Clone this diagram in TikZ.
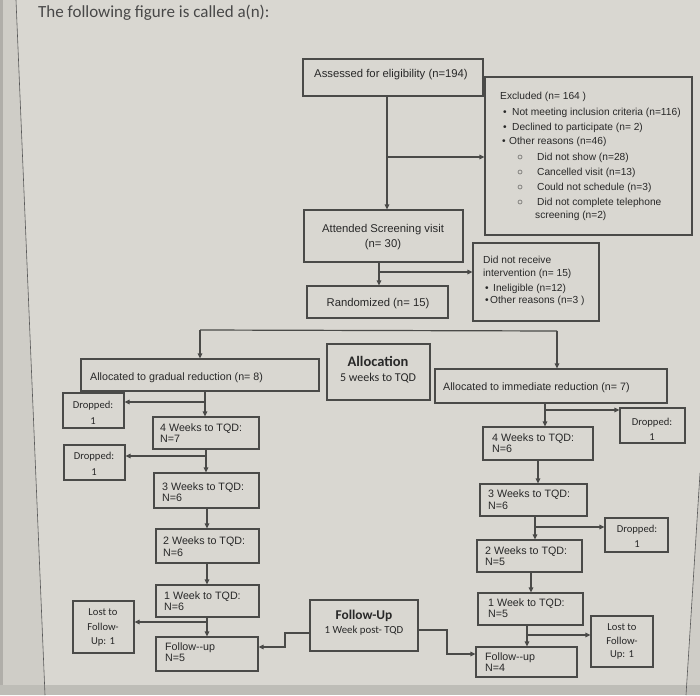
\documentclass[tikz,border=0pt]{standalone}
\usepackage{fontspec}
\setmainfont{Liberation Sans}
\newfontfamily\calfont{Carlito}
\usetikzlibrary{arrows.meta}
\definecolor{bg}{HTML}{D9D7D1}
\definecolor{bgdark}{HTML}{CFCDC7}
\definecolor{ln}{HTML}{4A4A48}
\definecolor{tx}{HTML}{282828}
\newcommand\bx[5]{\node[box, minimum width={(#4-#2)*1pt}, minimum height={(#5-#3)*1pt}] (#1) at ({(#2+#4)/2},{(#3+#5)/2}) {};}
\newcommand\subbul{\makebox[20pt][l]{\fontsize{10}{10}\selectfont ○}}
\begin{document}
\begin{tikzpicture}[x=1pt,y=-1pt,
  box/.style={draw=ln, line width=1.2pt, inner sep=0pt},
  conn/.style={draw=ln, line width=1.2pt},
  arr/.style={conn, -{Triangle[length=5pt,width=4.5pt]}},
  tbase/.style={text=tx, inner sep=0pt},
  tM/.style={tbase, font=\fontsize{11.3}{13}\selectfont, yshift=-4pt},
  tS/.style={tbase, font=\fontsize{10.2}{12}\selectfont, yshift=-3.6pt, anchor=base west},
  tW/.style={tbase, font=\fontsize{10.7}{12}\selectfont, yshift=-3.8pt, anchor=base west},
  tC/.style={tbase, font=\calfont\fontsize{10.6}{12}\selectfont, yshift=-3.6pt, anchor=base},
]
\useasboundingbox (0,0) rectangle (700,695);
\fill[bg] (0,0) rectangle (700,695);
\fill[bgdark] (0,0) -- (16,0) -- (45,695) -- (0,695) -- cycle;
\fill[bgdark!85!black] (0,0) rectangle (2.5,695);
\fill[bgdark] (700,473) -- (686,695) -- (700,695) -- cycle;
\fill[bgdark!92!black] (0,685) rectangle (700,695);
\draw[gray!70!black, line width=0.6pt] (16,0) -- (45,695);
\draw[gray!70!black, line width=0.6pt] (700,473) -- (686,695);

% title
\node[tbase, text=tx!85, font=\calfont\fontsize{17}{20}\selectfont, anchor=base west] (title) at (38,17.5) {The following figure is called a(n):};

% enrolment
\bx{assess}{303}{59}{483}{96}
\node[tM, anchor=base] (assessT) at (391,74) {Assessed for eligibility (n=194)};

\bx{excl}{485}{77}{692}{235}
\node[tS] (ex1) at (500,96) {Excluded (n= 164 )};
\node[tS] (ex2) at (503,112) {\makebox[9pt][l]{•}Not meeting inclusion criteria (n=116)};
\node[tS] (ex3) at (503,127) {\makebox[9pt][l]{•}Declined to participate (n= 2)};
\node[tS] (ex4) at (502,141) {\makebox[7pt][l]{•}Other reasons (n=46)};
\node[tS] (ex5) at (517,157) {\subbul Did not show (n=28)};
\node[tS] (ex6) at (517,172) {\subbul Cancelled visit (n=13)};
\node[tS] (ex7) at (517,187) {\subbul Could not schedule (n=3)};
\node[tS] (ex8) at (517,202) {\subbul Did not complete telephone};
\node[tS] (ex9) at (535,215) {screening (n=2)};

\bx{attend}{304}{210}{463}{262}
\node[tM, anchor=base] (attT1) at (383,228) {Attended Screening visit};
\node[tM, anchor=base] (attT2) at (383,243) {(n= 30)};

\bx{rand}{307}{286}{448}{318}
\node[tM, anchor=base] (randT) at (378,302) {Randomized (n= 15)};

\bx{dnr}{473}{243}{599}{321}
\node[tS] (dn1) at (483,260) {Did not receive};
\node[tS] (dn2) at (483,273) {intervention (n= 15)};
\node[tS] (dn3) at (485,288) {\makebox[8pt][l]{•}Ineligible (n=12)};
\node[tS] (dn4) at (485,300) {\makebox[5pt][l]{•}Other reasons (n=3 )};

\coordinate (j1) at (387,157);
\draw[arr] (j1 |- assess.south) -- (j1 |- attend.north);
\draw[arr] (j1) -- (j1 -| excl.west);
\coordinate (j2) at (379,272);
\draw[arr] (j2 |- attend.south) -- (j2 |- rand.north);
\draw[arr] (j2) -- (j2 -| dnr.west);

% allocation
\bx{galloc}{81}{359}{319}{391}
\node[tW] (galT) at (90,377) {Allocated to gradual reduction (n= 8)};
\bx{alloc}{327}{344}{430}{400}
\node[tbase, font=\calfont\bfseries\fontsize{14.5}{16}\selectfont, anchor=base, yshift=-5pt] (allT1) at (378,361) {Allocation};
\node[tbase, font=\calfont\fontsize{12}{14}\selectfont, anchor=base, yshift=-4.2pt] (allT2) at (378,377) {5 weeks to TQD};
\bx{ialloc}{435}{369}{667}{403}
\node[tW] (ialT) at (443,387) {Allocated to immediate reduction (n= 7)};

\coordinate (sL) at (200,330);
\coordinate (sR) at (557,331);
\draw[conn] (sL) -- (sR);
\draw[arr] (sL) -- (sL |- galloc.north);
\draw[arr] (sR) -- (sR |- ialloc.north);

% left arm
\bx{dropL1}{63}{393}{124}{428}
\node[tC] (dL1a) at (93,405) {Dropped:};
\node[tC] (dL1b) at (93,421) {1};
\bx{wL4}{153}{417}{259}{449}
\node[tW] (wL4a) at (160,428) {4 Weeks to TQD:};
\node[tW] (wL4b) at (160,439) {N=7};
\bx{dropL2}{64}{445}{125}{480}
\node[tC] (dL2a) at (94,456) {Dropped:};
\node[tC] (dL2b) at (94,472) {1};
\bx{wL3}{154}{473}{259}{508}
\node[tW] (wL3a) at (162,487) {3 Weeks to TQD:};
\node[tW] (wL3b) at (162,498) {N=6};
\bx{wL2}{156}{529}{259}{563}
\node[tW] (wL2a) at (163,541) {2 Weeks to TQD:};
\node[tW] (wL2b) at (163,553) {N=6};
\bx{wL1}{156}{585}{259}{617}
\node[tW] (wL1a) at (164,596) {1 Week to TQD:};
\node[tW] (wL1b) at (164,607) {N=6};
\bx{lostL}{73}{601}{134}{653}
\node[tC] (lLa) at (103,612) {Lost to};
\node[tC] (lLb) at (103,627) {Follow-};
\node[tC] (lLc) at (103,641) {Up: 1};
\bx{fuL}{156}{637}{258}{671}
\node[tW] (fuLa) at (165,647) {Follow-{}-up};
\node[tW] (fuLb) at (165,658) {N=5};

\coordinate (cL1) at (205,402);
\draw[arr] (cL1 |- galloc.south) -- (cL1 |- wL4.north);
\draw[arr] (cL1) -- (cL1 -| dropL1.east);
\coordinate (cL2) at (206,456);
\draw[arr] (cL2 |- wL4.south) -- (cL2 |- wL3.north);
\draw[arr] (cL2) -- (cL2 -| dropL2.east);
\coordinate (cL3) at (207,520);
\draw[arr] (cL3 |- wL3.south) -- (cL3 |- wL2.north);
\coordinate (cL4) at (207,575);
\draw[arr] (cL4 |- wL2.south) -- (cL4 |- wL1.north);
\coordinate (cL5) at (207,622);
\draw[arr] (cL5 |- wL1.south) -- (cL5 |- fuL.north);
\draw[arr] (cL5) -- (cL5 -| lostL.east);

% follow-up centre
\bx{fuC}{310}{600}{418}{651}
\node[tbase, font=\calfont\bfseries\fontsize{13.4}{15}\selectfont, anchor=base, yshift=-4.6pt] (fuCa) at (364,615) {Follow-Up};
\node[tbase, font=\calfont\fontsize{10.8}{12}\selectfont, anchor=base, yshift=-3.8pt] (fuCb) at (364,630) {1 Week post- TQD};

% right arm
\bx{dropR1}{620}{408}{685}{443}
\node[tC] (dR1a) at (652,422) {Dropped:};
\node[tC] (dR1b) at (652,437) {1};
\bx{wR4}{483}{427}{593}{460}
\node[tW] (wR4a) at (492,438) {4 Weeks to TQD:};
\node[tW] (wR4b) at (492,449) {N=6};
\bx{wR3}{480}{484}{587}{516}
\node[tW] (wR3a) at (488,494) {3 Weeks to TQD:};
\node[tW] (wR3b) at (488,506) {N=6};
\bx{dropR2}{605}{518}{668}{552}
\node[tC] (dR2a) at (637,529) {Dropped:};
\node[tC] (dR2b) at (637,544) {1};
\bx{wR2}{477}{540}{582}{572}
\node[tW] (wR2a) at (485,551) {2 Weeks to TQD:};
\node[tW] (wR2b) at (485,562) {N=5};
\bx{wR1}{478}{593}{583}{625}
\node[tW] (wR1a) at (488,603) {1 Week to TQD:};
\node[tW] (wR1b) at (488,614) {N=5};
\bx{lostR}{591}{616}{653}{667}
\node[tC] (lRa) at (622,627) {Lost to};
\node[tC] (lRb) at (622,641) {Follow-};
\node[tC] (lRc) at (622,654) {Up: 1};
\bx{fuR}{476}{647}{577}{677}
\node[tW] (fuRa) at (485,657) {Follow-{}-up};
\node[tW] (fuRb) at (485,668) {N=4};

\coordinate (cR1) at (545,410);
\draw[arr] (cR1 |- ialloc.south) -- (cR1 |- wR4.north);
\draw[arr] (cR1) -- (cR1 -| dropR1.west);
\coordinate (cR2) at (538,472);
\draw[arr] (cR2 |- wR4.south) -- (cR2 |- wR3.north);
\coordinate (cR3) at (535,527);
\draw[arr] (cR3 |- wR3.south) -- (cR3 |- wR2.north);
\draw[arr] (cR3) -- (cR3 -| dropR2.west);
\coordinate (cR4) at (531,582);
\draw[arr] (cR4 |- wR2.south) -- (cR4 |- wR1.north);
\coordinate (cR5) at (527,635);
\draw[arr] (cR5 |- wR1.south) -- (cR5 |- fuR.north);
\draw[arr] (cR5) -- (cR5 -| lostR.west);

% follow-up connectors
\coordinate (fa) at (310,633);
\coordinate (fb) at (285,647);
\draw[arr] (fa) -- (fa -| fb) -- (fb) -- (fb -| fuL.east);
\coordinate (fc) at (418,630);
\coordinate (fd) at (447,654);
\draw[arr] (fc) -- (fc -| fd) -- (fd) -- (fd -| fuR.west);
\end{tikzpicture}
\end{document}
